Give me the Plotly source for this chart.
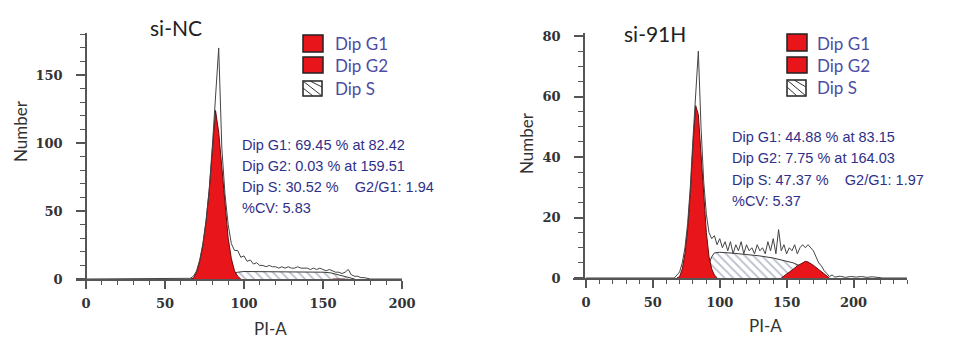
import plotly.graph_objects as go

W, H = 964, 339
OFF = 8  # page body margin of the browser

# ---------------- data: si-NC ----------------
nc_total_x = [0, 60, 62, 64, 66, 68, 70, 72, 74, 76, 78, 80, 82, 84, 86, 88, 90, 92, 94, 96, 98,
              100, 102, 104, 106, 108, 110, 112, 114, 116, 118, 120, 122, 124, 126, 128, 130,
              132, 134, 136, 138, 140, 142, 144, 146, 148, 150, 152, 154, 156, 158, 160, 162,
              164, 166, 168, 170, 172, 174, 176, 178, 180, 200]
nc_total_y = [0, 0, 0, 0, 0.5, 2, 6, 14, 26, 43, 66, 98, 135, 170, 96, 62, 40, 26, 21, 21, 16,
              17, 13, 14, 11, 12, 10, 10, 9, 10, 9, 9, 8, 9, 8, 9, 8,
              8, 9, 8, 8, 8, 7, 8, 7, 8, 7, 6, 7, 6, 5, 5, 4,
              5, 7, 3, 2, 2, 1, 1, 0.5, 0, 0]
nc_g1_x = [66, 68, 70, 72, 74, 76, 78, 80, 82, 84, 86, 88, 90, 92, 94, 96, 98]
nc_g1_y = [0, 0.5, 5, 13, 25, 42, 65, 96, 124, 108, 80, 52, 30, 15, 6, 2, 0]
nc_s_x = [84, 86, 88, 90, 92, 94, 96, 100, 110, 120, 130, 140, 150, 155, 160, 164, 168, 170]
nc_s_y = [0, 0.5, 1.5, 2.5, 3.5, 4.5, 5, 5.5, 5.5, 5.5, 5.5, 5.5, 5, 4.5, 3, 1.5, 0.3, 0]
nc_g2_x = [156, 158, 160, 162, 164]
nc_g2_y = [0, 0.05, 0.1, 0.05, 0]

# ---------------- data: si-91H ----------------
h_total_x = [0, 66, 68, 70, 72, 74, 76, 78, 80, 82, 84, 86, 88, 90, 92, 94, 96, 98, 100, 102,
             104, 106, 108, 110, 112, 114, 116, 118, 120, 122, 124, 126, 128, 130, 132, 134,
             136, 138, 140, 142, 144, 146, 148, 150, 152, 154, 156, 158, 160, 162, 164, 166,
             168, 170, 172, 174, 176, 178, 180, 182, 184, 186, 190, 194, 198, 202, 206, 210,
             214, 218, 222, 240]
h_total_y = [0, 0, 1, 2, 5, 10, 18, 30, 46, 60, 75, 50, 32, 21, 15, 13, 14, 11, 13, 10,
             12, 9, 12, 8, 11, 9, 12, 8, 11, 9, 10, 8, 11, 9, 10, 8,
             12, 9, 13, 8, 16, 9, 11, 8, 10, 9, 11, 8, 10, 11, 10, 11,
             10, 9, 7, 5, 4, 2.5, 1.5, 0.5, 1, 0.3, 0.6, 0.2, 0.5, 0.3, 0.5, 0.2,
             0.4, 0.1, 0, 0]
h_g1_x = [68, 70, 72, 74, 76, 78, 80, 82, 84, 86, 88, 90, 92, 94, 96, 98]
h_g1_y = [0, 0.5, 3, 8, 16, 28, 44, 57, 54, 40, 26, 15, 7, 3, 1, 0]
h_s_x = [86, 88, 90, 92, 94, 96, 100, 110, 120, 130, 140, 150, 155, 160, 165, 170, 174]
h_s_y = [0, 1, 2.5, 4.5, 7, 8.3, 8.5, 8.2, 7.8, 7.3, 6.6, 5.6, 5, 4, 2.2, 0.6, 0]
h_g2_x = [146, 150, 154, 158, 162, 164, 166, 170, 174, 178, 182]
h_g2_y = [0, 1.2, 2.6, 4, 5.2, 5.5, 5.3, 4.2, 2.8, 1.3, 0]

tickvals_nc_y = [0, 50, 100, 150]
tickvals_h_y = [0, 20, 40, 60, 80]

RED = "#e8161b"
HATCH = "#6f7c9a"

fig = go.Figure()


def add_panel(xa, ya, tx, ty, g1x, g1y, sx, sy, g2x, g2y):
    fig.add_trace(go.Scatter(x=sx, y=sy, xaxis=xa, yaxis=ya, mode="lines", fill="tozeroy",
                             fillcolor="white",
                             fillpattern=dict(shape="\\", fgcolor=HATCH, bgcolor="white",
                                              size=6, solidity=0.3),
                             line=dict(color="#3a3a3a", width=1), showlegend=False,
                             hoverinfo="skip"))
    fig.add_trace(go.Scatter(x=g1x, y=g1y, xaxis=xa, yaxis=ya, mode="lines", fill="tozeroy",
                             fillcolor=RED, line=dict(color="#6a0b0b", width=1),
                             showlegend=False, hoverinfo="skip"))
    fig.add_trace(go.Scatter(x=g2x, y=g2y, xaxis=xa, yaxis=ya, mode="lines", fill="tozeroy",
                             fillcolor=RED, line=dict(color="#6a0b0b", width=1),
                             showlegend=False, hoverinfo="skip"))
    fig.add_trace(go.Scatter(x=tx, y=ty, xaxis=xa, yaxis=ya, mode="lines",
                             line=dict(color="#444444", width=1), showlegend=False,
                             hoverinfo="skip"))


add_panel("x", "y", nc_total_x, nc_total_y, nc_g1_x, nc_g1_y, nc_s_x, nc_s_y, nc_g2_x, nc_g2_y)
add_panel("x2", "y2", h_total_x, h_total_y, h_g1_x, h_g1_y, h_s_x, h_s_y, h_g2_x, h_g2_y)

tickfont = dict(family="DejaVu Serif", size=13, color="#333333", weight="bold")
AX = "#555555"


def px(x):
    return (x - OFF) / W


def py(y):
    return 1 - (y - OFF) / H


def xaxis(domain, rng, anchor):
    return dict(domain=domain, range=rng, anchor=anchor, tick0=0, dtick=50,
                showline=True, linecolor=AX, linewidth=1.5, showgrid=False, zeroline=False,
                ticks="outside", ticklen=8, tickwidth=1.5, tickcolor=AX,
                minor=dict(dtick=10, tick0=0, ticks="outside", ticklen=4, tickwidth=1,
                           tickcolor=AX, showgrid=False),
                tickfont=tickfont, ticklabelstandoff=4, fixedrange=True, automargin=False)


def yaxis(domain, rng, pos, tickvals, mdt):
    return dict(domain=domain, range=rng, anchor="free", position=pos,
                tickvals=tickvals, showline=True, linecolor=AX, linewidth=1.5,
                showgrid=False, zeroline=False, ticks="outside", ticklen=9, tickwidth=1.5,
                tickcolor=AX,
                minor=dict(dtick=mdt, tick0=0, ticks="outside", ticklen=5, tickwidth=1,
                           tickcolor=AX, showgrid=False),
                tickfont=tickfont, ticklabelstandoff=11, fixedrange=True, automargin=False)


shapes = []
annotations = []


def legend(x0, ys):
    for i, (t, b) in enumerate(ys):
        if i < 2:
            shapes.append(dict(type="rect", xref="paper", yref="paper",
                               x0=px(x0), x1=px(x0 + 20), y0=py(b), y1=py(t),
                               fillcolor=RED, line=dict(color="#222222", width=1.5)))
        else:
            shapes.append(dict(type="rect", xref="paper", yref="paper",
                               x0=px(x0), x1=px(x0 + 19), y0=py(b), y1=py(t),
                               fillcolor="white", line=dict(color="#222222", width=1.5)))
            for (a, c) in [((x0, t), (x0 + 19, b)), ((x0 + 7, t), (x0 + 19, b - 9)),
                           ((x0, t + 7), (x0 + 10, b))]:
                shapes.append(dict(type="line", xref="paper", yref="paper",
                                   x0=px(a[0]), y0=py(a[1]), x1=px(c[0]), y1=py(c[1]),
                                   line=dict(color="#333333", width=1)))


legend(303, [(35, 52), (57, 73), (81, 96)])
legend(787, [(34, 51), (57, 73), (80, 96)])

LEGC = "#4d4da3"
for (x, y, t) in [(333, 44, "Dip G1"), (333, 66, "Dip G2"), (333, 88, "Dip S"),
                  (815, 43, "Dip G1"), (815, 65, "Dip G2"), (815, 87, "Dip S")]:
    annotations.append(dict(x=px(x), y=py(y), xref="paper", yref="paper", text=t,
                            showarrow=False, xanchor="left", yanchor="middle",
                            font=dict(family="Lato", size=17, color=LEGC)))

STC = "#2f2f88"
NBSP = "\u00a0"
stats_nc = ["Dip G1: 69.45 % at 82.42", "Dip G2: 0.03 % at 159.51",
            "Dip S: 30.52 %" + NBSP * 4 + "G2/G1: 1.94", "%CV: 5.83"]
stats_h = ["Dip G1: 44.88 % at 83.15", "Dip G2: 7.75 % at 164.03",
           "Dip S: 47.37 %" + NBSP * 4 + "G2/G1: 1.97", "%CV: 5.37"]
for i, t in enumerate(stats_nc):
    annotations.append(dict(x=px(240), y=py(145 + 21 * i), xref="paper", yref="paper",
                            text=t, showarrow=False, xanchor="left", yanchor="middle",
                            font=dict(family="Liberation Sans", size=14.5, color=STC)))
for i, t in enumerate(stats_h):
    annotations.append(dict(x=px(730), y=py(137 + 21.3 * i), xref="paper", yref="paper",
                            text=t, showarrow=False, xanchor="left", yanchor="middle",
                            font=dict(family="Liberation Sans", size=14.5, color=STC)))

TITLEF = dict(family="Lato", size=21, color="#222222")
annotations.append(dict(x=px(176), y=py(28), xref="paper", yref="paper", text="si-NC",
                        showarrow=False, xanchor="center", yanchor="middle", font=TITLEF))
annotations.append(dict(x=px(655), y=py(33), xref="paper", yref="paper", text="si-91H",
                        showarrow=False, xanchor="center", yanchor="middle", font=TITLEF))

AXT = dict(family="Lato", size=17, color="#333333")
annotations.append(dict(x=px(20), y=py(131), xref="paper", yref="paper", text="Number",
                        textangle=-90, showarrow=False, xanchor="center", yanchor="middle",
                        font=AXT))
annotations.append(dict(x=px(527), y=py(143), xref="paper", yref="paper", text="Number",
                        textangle=-90, showarrow=False, xanchor="center", yanchor="middle",
                        font=AXT))
annotations.append(dict(x=px(270), y=py(328), xref="paper", yref="paper", text="PI-A",
                        showarrow=False, xanchor="center", yanchor="middle", font=AXT))
annotations.append(dict(x=px(765), y=py(325), xref="paper", yref="paper", text="PI-A",
                        showarrow=False, xanchor="center", yanchor="middle", font=AXT))

fig.update_layout(
    width=W, height=H, margin=dict(l=0, r=0, t=0, b=0, pad=0),
    paper_bgcolor="white", plot_bgcolor="white",
    xaxis=xaxis([px(76), px(402)], [-6.3, 200], "y"),
    yaxis=yaxis([py(279), py(33)], [0, 181], px(86), tickvals_nc_y, 10),
    xaxis2=xaxis([px(573), px(907)], [-9.7, 240], "y2"),
    yaxis2=yaxis([py(278), py(33)], [0, 81], px(584), tickvals_h_y, 5),
    shapes=shapes, annotations=annotations, showlegend=False,
)

fig.write_html("out.html")
